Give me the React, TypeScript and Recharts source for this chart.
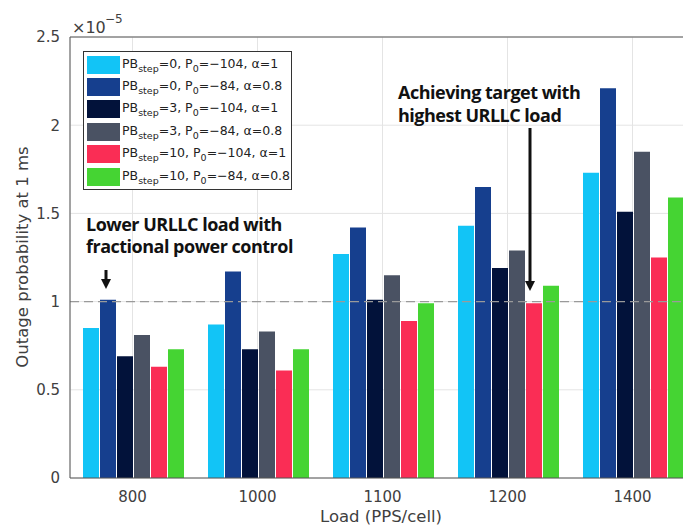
// Outage probability vs load, grouped bars (MATLAB-style figure)

import { BarChart, Bar, XAxis, YAxis, CartesianGrid, ReferenceLine } from 'recharts'

const loads = ['800', '1000', '1100', '1200', '1400']

// values in units of 1e-5
const pb0P104 = [0.85, 0.87, 1.27, 1.43, 1.73]
const pb0P84 = [1.01, 1.17, 1.42, 1.65, 2.21]
const pb3P104 = [0.69, 0.73, 1.01, 1.19, 1.51]
const pb3P84 = [0.81, 0.83, 1.15, 1.29, 1.85]
const pb10P104 = [0.63, 0.61, 0.89, 0.99, 1.25]
const pb10P84 = [0.73, 0.73, 0.99, 1.09, 1.59]

const pbSteps = [0, 0, 3, 3, 10, 10]
const p0s = [-104, -84, -104, -84, -104, -84]
const alphas = [1, 0.8, 1, 0.8, 1, 0.8]
const colors = ['#12c4f6', '#163f8e', '#02123a', '#4a5263', '#fa2d55', '#45d433']
const yTicks = [0, 0.5, 1, 1.5, 2, 2.5]

const seriesValues = [pb0P104, pb0P84, pb3P104, pb3P84, pb10P104, pb10P84]
const keys = seriesValues.map((_, i) => `s${i}`)

const data = loads.map((load, j) => {
  const row: Record<string, string | number> = { load }
  seriesValues.forEach((vals, i) => {
    row[keys[i]] = vals[j]
  })
  return row
})

const FONT = '"DejaVu Sans", sans-serif'
const BOLD = '"Open Sans", sans-serif'

const fmt = (v: number) => (v < 0 ? `\u2212${Math.abs(v)}` : `${v}`)

function LegendBox() {
  return (
    <div
      style={{
        position: 'absolute',
        left: 83,
        top: 51,
        width: 207,
        height: 137,
        border: '1px solid #333',
        background: '#fff',
        fontFamily: FONT,
        fontSize: 12.5,
        color: '#222',
        boxSizing: 'content-box',
      }}
    >
      {pbSteps.map((pb, i) => (
        <div
          key={i}
          style={{
            position: 'absolute',
            left: 3,
            top: 3 + i * 22.4,
            height: 19,
            display: 'flex',
            alignItems: 'center',
            whiteSpace: 'nowrap',
          }}
        >
          <span style={{ width: 33, height: 18, background: colors[i], display: 'inline-block', marginRight: 2 }} />
          <span>
            PB<sub style={{ fontSize: 9.5, verticalAlign: -4 }}>step</sub>={pb}, P
            <sub style={{ fontSize: 9.5, verticalAlign: -4 }}>0</sub>={fmt(p0s[i])}, α={alphas[i]}
          </span>
        </div>
      ))}
    </div>
  )
}

function Arrow({ x, y1, y2 }: { x: number; y1: number; y2: number }) {
  return (
    <g>
      <line x1={x} y1={y1} x2={x} y2={y2 - 8} stroke="#111" strokeWidth={3} />
      <polygon points={`${x - 5},${y2 - 10} ${x + 5},${y2 - 10} ${x},${y2}`} fill="#111" />
    </g>
  )
}

export default function App() {
  return (
    <div
      style={{
        position: 'fixed',
        left: 0,
        top: 0,
        width: 683,
        height: 527,
        overflow: 'hidden',
        background: '#fff',
      }}
    >
      <BarChart
        width={700}
        height={527}
        data={data}
        margin={{ top: 37, right: 5, bottom: 0, left: 0 }}
        barCategoryGap={13}
        barGap={1}
      >
        <CartesianGrid stroke="#e4e4e4" vertical horizontal />
        <XAxis
          dataKey="load"
          height={49}
          tickSize={0}
          tickMargin={13}
          axisLine={{ stroke: '#555' }}
          tick={{ fontSize: 15, fill: '#404040', fontFamily: FONT }}
          label={{
            content: () => (
              <text x={381} y={522} textAnchor="middle" fontSize={16.5} fill="#404040" fontFamily={FONT}>
                Load (PPS/cell)
              </text>
            ),
          }}
        />
        <YAxis
          width={70}
          domain={[0, 2.5]}
          ticks={yTicks}
          tickSize={0}
          tickMargin={10}
          axisLine={{ stroke: '#555' }}
          tick={{ fontSize: 15, fill: '#404040', fontFamily: FONT }}
          label={{
            content: () => (
              <text
                x={22}
                y={257}
                transform="rotate(-90 22 257)"
                textAnchor="middle"
                dominantBaseline="central"
                fontSize={16.5}
                fill="#404040"
                fontFamily={FONT}
              >
                Outage probability at 1 ms
              </text>
            ),
          }}
        />
        <ReferenceLine y={2.5} stroke="#555" />
        {keys.map((k, i) => (
          <Bar
            key={k}
            dataKey={k}
            name={`PBstep=${pbSteps[i]}, P0=${p0s[i]}, alpha=${alphas[i]}`}
            fill={colors[i]}
            isAnimationActive={false}
          />
        ))}
        <ReferenceLine y={1} stroke="#9a9a9a" strokeDasharray="9 5" strokeWidth={1.3} />
      </BarChart>

      <svg width={683} height={527} style={{ position: 'absolute', left: 0, top: 0, pointerEvents: 'none' }}>
        <text x={72} y={33} fontSize={16} fill="#404040" fontFamily={FONT}>
          ×10
        </text>
        <text x={105} y={23} fontSize={12} fill="#404040" fontFamily={FONT}>
          −5
        </text>
        <g fontFamily={BOLD} fontWeight={700} fontSize={18} fill="#111" letterSpacing={-0.5}>
          <text x={86} y={231}>Lower URLLC load with</text>
          <text x={86} y={253}>fractional power control</text>
          <text x={398} y={99}>Achieving target with</text>
          <text x={398} y={122}>highest URLLC load</text>
        </g>
        <Arrow x={106} y1={270} y2={289} />
        <Arrow x={530} y1={128} y2={291} />
      </svg>
      <LegendBox />
    </div>
  )
}
